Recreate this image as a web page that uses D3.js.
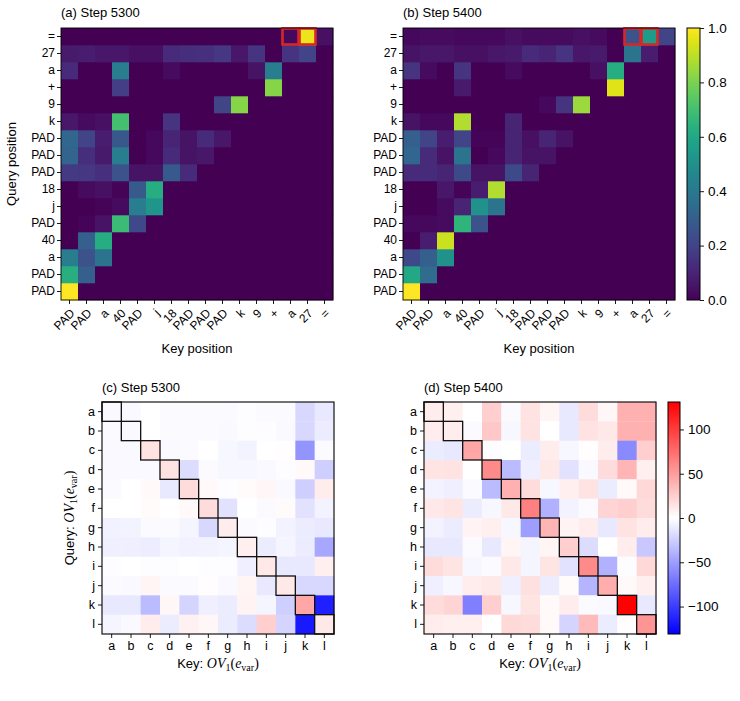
<!DOCTYPE html>
<html>
<head>
<meta charset="utf-8">
<script src="https://cdn.jsdelivr.net/npm/d3@7"></script>
<style>
  body { margin: 0; background: #fff; }
  text { font-family: "Liberation Sans", Arial, Helvetica, sans-serif; fill: #000; }
</style>
</head>
<body>
<div id="chart"></div>
<script>
// token sequence (index 0 = first position, drawn at the bottom of the y axis)
const tokens = ["PAD","PAD","a","40","PAD","j","18","PAD","PAD","PAD","k","9","+","a","27","="];

// attention weights, row = query position, column = key position
const attn5300 = [
  [1.00,0,0,0,0,0,0,0,0,0,0,0,0,0,0,0],
  [0.63,0.30,0,0,0,0,0,0,0,0,0,0,0,0,0,0],
  [0.42,0.25,0.38,0,0,0,0,0,0,0,0,0,0,0,0,0],
  [0,0.30,0.62,0,0,0,0,0,0,0,0,0,0,0,0,0],
  [0,0.01,0.05,0.68,0.22,0,0,0,0,0,0,0,0,0,0,0],
  [0,0,0.01,0.03,0.42,0.52,0,0,0,0,0,0,0,0,0,0],
  [0,0.03,0.04,0.01,0.28,0.62,0,0,0,0,0,0,0,0,0,0],
  [0.17,0.16,0.14,0.25,0.05,0.05,0.28,0.12,0,0,0,0,0,0,0,0],
  [0.32,0.13,0.07,0.42,0,0.02,0.12,0.05,0.06,0,0,0,0,0,0,0],
  [0.33,0.20,0.08,0.27,0,0.02,0.10,0.05,0.12,0.06,0,0,0,0,0,0],
  [0.06,0.03,0.04,0.70,0,0,0.15,0,0,0,0,0,0,0,0,0],
  [0,0,0,0,0,0,0,0,0,0.20,0.82,0,0,0,0,0],
  [0,0,0,0.18,0,0,0,0,0,0,0,0,0.82,0,0,0],
  [0.12,0,0,0.42,0,0,0.03,0,0,0,0,0.05,0.42,0,0,0],
  [0.07,0.08,0.06,0.06,0.04,0.04,0.12,0.13,0.14,0.16,0.06,0.15,0,0.15,0.20,0],
  [0,0,0,0,0,0,0,0,0,0,0,0,0,0.02,0.97,0.04]
];

const attn5400 = [
  [1.00,0,0,0,0,0,0,0,0,0,0,0,0,0,0,0],
  [0.60,0.35,0,0,0,0,0,0,0,0,0,0,0,0,0,0],
  [0.22,0.30,0.50,0,0,0,0,0,0,0,0,0,0,0,0,0],
  [0,0.08,0.92,0,0,0,0,0,0,0,0,0,0,0,0,0],
  [0.02,0.02,0.03,0.65,0.25,0,0,0,0,0,0,0,0,0,0,0],
  [0,0,0.03,0.10,0.50,0.38,0,0,0,0,0,0,0,0,0,0],
  [0,0,0.06,0.01,0.08,0.88,0,0,0,0,0,0,0,0,0,0],
  [0.12,0.12,0.10,0.22,0.05,0.05,0.22,0.10,0,0,0,0,0,0,0,0],
  [0.33,0.12,0.05,0.38,0,0.02,0.10,0.05,0.05,0,0,0,0,0,0,0],
  [0.30,0.20,0.08,0.20,0.01,0.01,0.10,0.04,0.10,0.05,0,0,0,0,0,0],
  [0.05,0.02,0.02,0.88,0,0,0.10,0,0,0,0,0,0,0,0,0],
  [0,0,0,0,0,0,0,0,0.02,0.15,0.85,0,0,0,0,0],
  [0,0,0,0.07,0,0,0,0,0,0,0,0,0.95,0,0,0],
  [0.15,0.03,0,0.15,0,0,0.03,0,0,0,0,0.04,0.62,0,0,0],
  [0.05,0.06,0.06,0.04,0.04,0.06,0.07,0.12,0.10,0.15,0.06,0.07,0,0.38,0.08,0],
  [0.02,0.03,0.03,0.02,0.02,0.02,0.04,0.03,0.03,0.03,0.04,0.03,0,0.25,0.55,0.20]
];

// [query, key] cells boxed in red
const highlight = [[15,13],[15,14]];

const attnTicks = [0,0.2,0.4,0.6,0.8,1.0];

const letters = ["a","b","c","d","e","f","g","h","i","j","k","l"];

// OV circuit scores, row = query letter, column = key letter
const ov5300 = [
  [-3,-3,0,-2,-2,-2,-2,-1,-2,-2,-20,-12],
  [-2,-3,0,-2,-2,-2,-3,-1,-1,-3,-20,-10],
  [-3,-3,15,-3,-2,0,-4,-6,0,1,-55,-2],
  [-3,-3,-3,15,-18,-2,-4,-4,-3,-1,3,-25],
  [-2,0,3,-12,18,3,-1,2,4,-3,-25,10],
  [0,0,2,0,3,18,-15,0,-2,2,-15,-6],
  [-7,-6,-2,-2,-5,-20,10,-2,-1,-6,-10,-12],
  [-8,-8,-9,-5,-7,-6,-5,8,-10,-5,-10,-45],
  [-1,0,-1,-1,0,-1,-1,-8,12,-12,-12,8],
  [-2,-3,5,-2,-2,1,-3,5,-12,12,-20,-20],
  [-12,-12,-35,4,-22,-8,-10,6,-5,-25,45,-115],
  [-5,-3,10,-10,7,4,-10,-18,25,-22,-118,12]
];

const ov5400 = [
  [10,8,0,25,-2,15,5,-12,18,4,40,40],
  [10,10,-2,28,-4,15,0,-12,15,12,40,40],
  [-10,-12,45,-1,0,-10,10,-4,1,10,-60,25],
  [14,15,0,60,-35,-8,12,-15,-3,18,38,8],
  [-6,-8,-2,-35,40,18,-4,8,15,-10,3,20],
  [12,14,-10,-4,12,65,-40,-6,-2,22,25,18],
  [-6,-10,6,8,-4,-50,38,6,10,-12,15,10],
  [-12,-12,-2,-12,5,-5,5,25,-18,0,10,-28],
  [18,14,-4,-2,12,-5,14,-15,60,-40,-1,20],
  [-8,-4,10,12,-8,16,-10,2,-38,42,3,8],
  [18,22,-65,25,-4,14,3,10,-2,-3,131,-12],
  [10,8,8,0,20,18,3,-22,35,-10,1,55]
];

const ovLimit = 131;
const ovTicks = [-100,-50,0,50,100];

const svg = d3.select("#chart").append("svg")
  .attr("width", 740)
  .attr("height", 701);

// matplotlib "bwr"
function bwr(t) {
  t = Math.max(0, Math.min(1, t));
  let r, g, b;
  if (t < 0.5) { r = g = 2 * t; b = 1; }
  else { r = 1; g = b = 2 * (1 - t); }
  return d3.rgb(r * 255, g * 255, b * 255).toString();
}

const fmtMinus = d => d < 0 ? "\u2212" + Math.abs(d) : String(d);

function styleAxis(g, fontSize) {
  g.select(".domain").remove();
  g.selectAll(".tick line").attr("stroke", "#000").attr("stroke-width", 0.9);
  g.selectAll(".tick text").style("font-size", fontSize + "px").attr("fill", "#000");
}

function attnPanel(data, left, top, size, title) {
  const n = tokens.length;
  const idx = d3.range(n);
  const x = d3.scaleBand().domain(idx).range([left, left + size]);
  const y = d3.scaleBand().domain(idx).range([top + size, top]);
  const color = d3.scaleSequential(d3.interpolateViridis).domain([0, 1]);

  const g = svg.append("g");
  const cells = [];
  data.forEach((row, qi) => row.forEach((v, ki) => cells.push({qi, ki, v})));
  g.selectAll("rect.cell").data(cells).join("rect")
    .attr("class", "cell")
    .attr("x", d => x(d.ki))
    .attr("y", d => y(d.qi))
    .attr("width", x.bandwidth() + 0.3)
    .attr("height", y.bandwidth() + 0.3)
    .attr("fill", d => color(d.v));

  g.selectAll("rect.hl").data(highlight).join("rect")
    .attr("class", "hl")
    .attr("x", d => x(d[1]) + 0.5)
    .attr("y", d => y(d[0]) + 0.5)
    .attr("width", x.bandwidth() - 1)
    .attr("height", y.bandwidth() - 1)
    .attr("fill", "none")
    .attr("stroke", "#d62728")
    .attr("stroke-width", 2.6);

  g.append("rect")
    .attr("x", left).attr("y", top).attr("width", size).attr("height", size)
    .attr("fill", "none").attr("stroke", "#000").attr("stroke-width", 0.9);

  const ya = g.append("g")
    .attr("transform", `translate(${left},0)`)
    .call(d3.axisLeft(y).tickSize(4).tickPadding(2).tickFormat(i => tokens[i]));
  styleAxis(ya, 12);

  const xa = g.append("g")
    .attr("transform", `translate(0,${top + size})`)
    .call(d3.axisBottom(x).tickSize(4).tickPadding(2).tickFormat(i => tokens[i]));
  styleAxis(xa, 12);
  xa.selectAll(".tick text")
    .attr("text-anchor", "end")
    .attr("dy", "0.35em")
    .attr("y", 0)
    .attr("transform", "translate(3,11) rotate(-45)");

  g.append("text")
    .attr("x", left).attr("y", top - 11)
    .style("font-size", "13px")
    .text(title);

  g.append("text")
    .attr("x", left + size / 2).attr("y", 353)
    .attr("text-anchor", "middle")
    .style("font-size", "13px")
    .text("Key position");
}

function ovLabel(sel, prefix) {
  sel.style("font-size", "13px");
  sel.append("tspan").text(prefix);
  const serif = '"Liberation Serif", "DejaVu Serif", serif';
  sel.append("tspan").text("OV").style("font-family", serif).style("font-style", "italic").style("font-size", "14px");
  sel.append("tspan").text("1").style("font-family", serif).style("font-size", "10px").attr("dy", 3);
  sel.append("tspan").text("(").style("font-family", serif).style("font-size", "14px").attr("dy", -3);
  sel.append("tspan").text("e").style("font-family", serif).style("font-style", "italic").style("font-size", "14px");
  sel.append("tspan").text("var").style("font-family", serif).style("font-size", "10px").attr("dy", 3);
  sel.append("tspan").text(")").style("font-family", serif).style("font-size", "14px").attr("dy", -3);
}

function ovPanel(data, left, top, size, title, showYLabel) {
  const x = d3.scaleBand().domain(letters).range([left, left + size]);
  const y = d3.scaleBand().domain(letters).range([top, top + size]);
  const color = d3.scaleLinear().domain([-ovLimit, ovLimit]).range([0, 1]);

  const g = svg.append("g");
  const cells = [];
  data.forEach((row, qi) => row.forEach((v, ki) => cells.push({q: letters[qi], k: letters[ki], v})));
  g.selectAll("rect.cell").data(cells).join("rect")
    .attr("class", "cell")
    .attr("x", d => x(d.k))
    .attr("y", d => y(d.q))
    .attr("width", x.bandwidth() + 0.3)
    .attr("height", y.bandwidth() + 0.3)
    .attr("fill", d => bwr(color(d.v)));

  g.selectAll("rect.diag").data(letters).join("rect")
    .attr("class", "diag")
    .attr("x", d => x(d))
    .attr("y", d => y(d))
    .attr("width", x.bandwidth())
    .attr("height", y.bandwidth())
    .attr("fill", "none")
    .attr("stroke", "#111")
    .attr("stroke-width", 1.3);

  g.append("rect")
    .attr("x", left).attr("y", top).attr("width", size).attr("height", size)
    .attr("fill", "none").attr("stroke", "#000").attr("stroke-width", 1.1);

  const ya = g.append("g")
    .attr("transform", `translate(${left},0)`)
    .call(d3.axisLeft(y).tickSize(4).tickPadding(3));
  styleAxis(ya, 12.5);

  const xa = g.append("g")
    .attr("transform", `translate(0,${top + size})`)
    .call(d3.axisBottom(x).tickSize(4).tickPadding(3));
  styleAxis(xa, 12.5);

  g.append("text")
    .attr("x", left).attr("y", top - 10)
    .style("font-size", "13px")
    .text(title);

  g.append("text")
    .attr("x", left + size / 2).attr("y", top + size + 34)
    .attr("text-anchor", "middle")
    .call(ovLabel, "Key: ");

  if (showYLabel) {
    g.append("text")
      .attr("transform", `translate(${left - 28},${top + size / 2}) rotate(-90)`)
      .attr("text-anchor", "middle")
      .call(ovLabel, "Query: ");
  }
}

function colorbar(id, left, top, width, height, interp, domain, ticks, fmt) {
  const defs = svg.append("defs");
  const grad = defs.append("linearGradient")
    .attr("id", id).attr("x1", 0).attr("x2", 0).attr("y1", 1).attr("y2", 0);
  d3.range(0, 1.0001, 0.02).forEach(t => {
    grad.append("stop").attr("offset", t).attr("stop-color", interp(t));
  });
  const g = svg.append("g");
  g.append("rect")
    .attr("x", left).attr("y", top).attr("width", width).attr("height", height)
    .attr("fill", `url(#${id})`)
    .attr("stroke", "#000").attr("stroke-width", 1);
  const s = d3.scaleLinear().domain(domain).range([top + height, top]);
  const a = g.append("g")
    .attr("transform", `translate(${left + width},0)`)
    .call(d3.axisRight(s).tickValues(ticks).tickSize(4).tickPadding(4).tickFormat(fmt));
  styleAxis(a, 13.5);
}

attnPanel(attn5300, 61, 28, 272, "(a) Step 5300");
attnPanel(attn5400, 403, 28, 272, "(b) Step 5400");

svg.append("text")
  .attr("transform", "translate(16,164) rotate(-90)")
  .attr("text-anchor", "middle")
  .style("font-size", "13px")
  .text("Query position");

colorbar("viridisGrad", 687, 28, 13, 272, d3.interpolateViridis, [0, 1], attnTicks, d3.format(".1f"));

ovPanel(ov5300, 102, 402, 232, "(c) Step 5300", true);
ovPanel(ov5400, 424, 402, 232, "(d) Step 5400", false);

colorbar("bwrGrad", 668, 402, 12, 232, bwr, [-ovLimit, ovLimit], ovTicks, fmtMinus);
</script>
</body>
</html>
